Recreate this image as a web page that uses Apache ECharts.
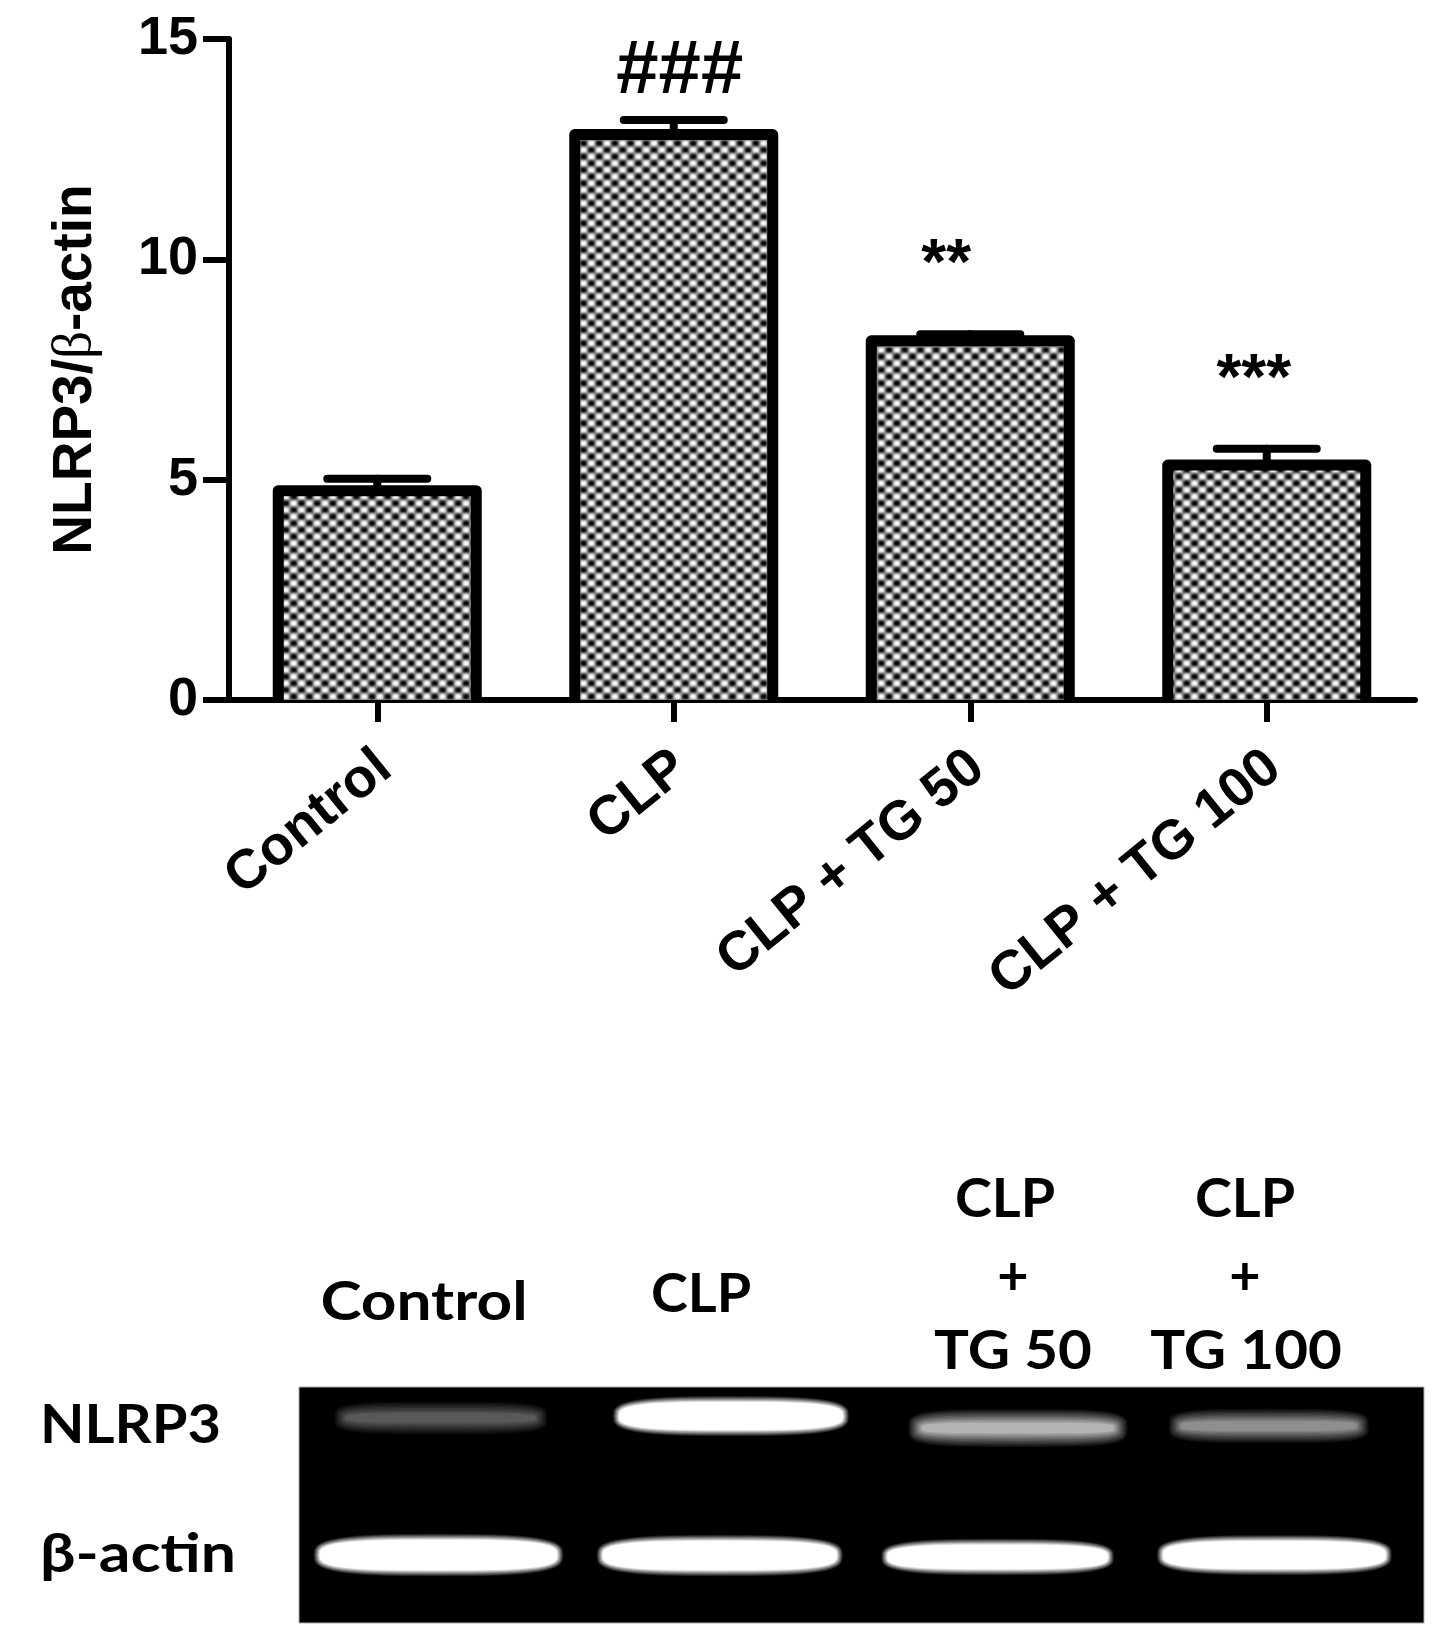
<!DOCTYPE html>
<html>
<head>
<meta charset="utf-8">
<title>NLRP3</title>
<script src="https://cdn.jsdelivr.net/npm/echarts@6/dist/echarts.min.js"></script>
<style>
  html, body { margin: 0; padding: 0; background: #fff; }
  #chart { width: 1451px; height: 1651px; }
</style>
</head>
<body>
<div id="chart"></div>
<script>
var categories = ["Control", "CLP", "CLP + TG 50", "CLP + TG 100"];
var means = [4.75, 12.83, 8.15, 5.33];
var errorTops = [5.02, 13.16, 8.3, 5.7];
var yTicks = [0, 5, 10, 15];
var marks = ["", "###", "**", "***"];
var markHeights = [null, 14.25, 9.85, 7.22];

// gel bands, in percent of the gel width / height
var nlrp3Centers = [12.6, 38.4, 63.9, 86.2];
var nlrp3Rows = [86.9, 87.7, 82.6, 83.5];
var nlrp3Widths = [19, 21, 19.5, 17.8];
var nlrp3Heights = [14, 17, 16, 14.5];
var nlrp3Levels = [0.35, 1, 0.7, 0.56];
var actinCenters = [12.4, 37.4, 62.1, 86.7];
var actinRows = [28.8, 28.6, 28, 28.8];
var actinWidths = [22.2, 21.9, 20.7, 20.9];
var actinHeights = [18, 17.5, 15.5, 17];
var actinLevels = [1, 1, 1, 1];

var boldFont = '"Liberation Sans", Arial, sans-serif';
var gelFont = 'Lato, "Open Sans", sans-serif';

function makePattern() {
  var c = document.createElement("canvas");
  c.width = 47;
  c.height = 40;
  var ctx = c.getContext("2d");
  ctx.fillStyle = "#8a8a8a";
  ctx.fillRect(0, 0, 47, 40);
  ctx.filter = "blur(0.8px)";
  var dx = 47 / 6, dy = 40 / 6;
  for (var r = -1; r < 7; r++) {
    for (var k = -1; k < 7; k++) {
      ctx.fillStyle = (r + k + 2) % 2 === 0 ? "#ffffff" : "#000000";
      ctx.beginPath();
      ctx.ellipse((k + 0.5) * dx, (r + 0.5) * dy, 3.3, 2.8, 0, 0, Math.PI * 2);
      ctx.fill();
    }
  }
  return c;
}

function bandData(centers, rows, widths, heights, levels) {
  return centers.map(function (c, i) {
    return [c, rows[i], widths[i], heights[i], levels[i]];
  });
}

// outline of a gel band, a superellipse around (cx, cy)
function bandOutline(cx, cy, a, b, p) {
  var pts = [];
  for (var i = 0; i < 48; i++) {
    var t = (i / 48) * Math.PI * 2;
    var cos = Math.cos(t), sin = Math.sin(t);
    pts.push([
      cx + a * (cos < 0 ? -1 : 1) * Math.pow(Math.abs(cos), 2 / p),
      cy + b * (sin < 0 ? -1 : 1) * Math.pow(Math.abs(sin), 2 / p)
    ]);
  }
  return pts;
}

// a soft band: stacked translucent shapes give a linear ramp at the edge
function renderBand(params, api) {
  var center = api.coord([api.value(0), api.value(1)]);
  var size = api.size([api.value(2), api.value(3)]);
  var level = api.value(4);
  var g = Math.round(level * 255);
  var color = "rgb(" + g + "," + g + "," + g + ")";
  var n = 10;
  var edge = level < 1 ? size[1] * 0.36 : 6;
  var children = [];
  for (var k = 0; k < n; k++) {
    var inset = (k * edge) / (n - 1);
    children.push({
      type: "polygon",
      shape: { points: bandOutline(center[0], center[1], size[0] / 2 - inset, size[1] / 2 - inset, level < 1 ? 4 : 3.2) },
      style: { fill: color, opacity: 1 / (n - k) }
    });
  }
  return { type: "group", children: children };
}

function renderOutline(params, api) {
  var top = api.coord([api.value(0), api.value(1)]);
  var base = api.coord([api.value(0), 0]);
  var half = 99;
  return {
    type: "polyline",
    shape: { points: [[top[0] - half, base[1]], [top[0] - half, top[1]], [top[0] + half, top[1]], [top[0] + half, base[1]]] },
    style: { fill: null, stroke: "#000", lineWidth: 11, lineJoin: "round" }
  };
}

function renderError(params, api) {
  var top = api.coord([api.value(0), api.value(1)]);
  var bottom = api.coord([api.value(0), api.value(2)]);
  var half = 50;
  var style = { stroke: "#000", lineWidth: 8, lineCap: "round" };
  return {
    type: "group",
    children: [
      { type: "line", shape: { x1: top[0], y1: top[1], x2: bottom[0], y2: bottom[1] }, style: style },
      { type: "line", shape: { x1: top[0] - half, y1: top[1], x2: top[0] + half, y2: top[1] }, style: style }
    ]
  };
}

function gelText(text, x, y, stretch, align) {
  return {
    type: "text",
    x: x,
    y: y,
    scaleX: stretch,
    style: {
      text: text,
      fill: "#000",
      font: "bold 54px " + gelFont,
      align: align || "center",
      verticalAlign: "middle"
    }
  };
}

var chart = echarts.init(document.getElementById("chart"));

var option = {
  backgroundColor: "#fff",
  animation: false,
  grid: [
    { left: 229, top: 39, width: 1186, height: 661 },
    { left: 299, top: 1387, width: 1125, height: 236, show: true, backgroundColor: "#000", borderColor: "#aaa", borderWidth: 1 }
  ],
  xAxis: [
    {
      type: "category",
      data: categories,
      gridIndex: 0,
      axisLine: { onZero: false, lineStyle: { color: "#000", width: 6 } },
      axisTick: { show: true, alignWithLabel: true, length: 22, lineStyle: { color: "#000", width: 6 } },
      axisLabel: {
        rotate: 39,
        interval: 0,
        margin: 52,
        verticalAlign: "top",
        lineHeight: 24,
        color: "#000",
        fontFamily: boldFont,
        fontWeight: "bold",
        fontSize: 55
      },
      splitLine: { show: false }
    },
    { type: "value", gridIndex: 1, min: 0, max: 100, show: false }
  ],
  yAxis: [
    {
      type: "value",
      gridIndex: 0,
      min: 0,
      max: 15,
      interval: 5,
      axisLine: { show: true, lineStyle: { color: "#000", width: 6 } },
      axisTick: { show: true, length: 26, lineStyle: { color: "#000", width: 6 } },
      axisLabel: {
        margin: 31,
        color: "#000",
        fontFamily: boldFont,
        fontWeight: "bold",
        fontSize: 54,
        customValues: yTicks
      },
      splitLine: { show: false },
      name: "{a|NLRP3/}{b|β}{a|-actin}",
      nameLocation: "middle",
      nameGap: 126,
      nameRotate: 90,
      nameTextStyle: {
        rich: {
          a: { fontFamily: boldFont, fontWeight: "bold", fontSize: 55, color: "#000" },
          b: { fontFamily: '"Liberation Serif", serif', fontWeight: "normal", fontSize: 55, color: "#000" }
        }
      }
    },
    { type: "value", gridIndex: 1, min: 0, max: 100, show: false }
  ],
  series: [
    {
      type: "bar",
      xAxisIndex: 0,
      yAxisIndex: 0,
      data: means,
      barWidth: 198,
      itemStyle: { color: { image: makePattern(), repeat: "repeat" } },
      z: 2
    },
    {
      type: "custom",
      xAxisIndex: 0,
      yAxisIndex: 0,
      data: categories.map(function (c, i) { return [i, means[i]]; }),
      renderItem: renderOutline,
      z: 3
    },
    {
      type: "custom",
      xAxisIndex: 0,
      yAxisIndex: 0,
      data: categories.map(function (c, i) { return [i, errorTops[i], means[i]]; }),
      renderItem: renderError,
      z: 1
    },
    {
      type: "scatter",
      xAxisIndex: 0,
      yAxisIndex: 0,
      symbolSize: 0,
      itemStyle: { opacity: 1 },
      data: categories.map(function (c, i) {
        var dx = [0, 6, -24, -13][i];
        return {
          value: [i, markHeights[i]],
          label: {
            show: true,
            formatter: marks[i],
            position: "inside",
            offset: [dx, 0],
            color: "#000",
            fontFamily: boldFont,
            fontWeight: "bold",
            fontSize: i === 1 ? 76 : 64
          }
        };
      }),
      z: 5
    },
    {
      type: "custom",
      xAxisIndex: 1,
      yAxisIndex: 1,
      data: bandData(nlrp3Centers, nlrp3Rows, nlrp3Widths, nlrp3Heights, nlrp3Levels),
      renderItem: renderBand,
      clip: true
    },
    {
      type: "custom",
      xAxisIndex: 1,
      yAxisIndex: 1,
      data: bandData(actinCenters, actinRows, actinWidths, actinHeights, actinLevels),
      renderItem: renderBand,
      clip: true
    }
  ],
  graphic: [
    gelText("Control", 424, 1303, 1.15),
    gelText("CLP", 701, 1295, 1.03),
    gelText("CLP", 1005, 1200, 1.03),
    gelText("+", 1013, 1278, 1),
    gelText("TG 50", 1013, 1352, 1.08),
    gelText("CLP", 1245, 1200, 1.03),
    gelText("+", 1245, 1278, 1),
    gelText("TG 100", 1246, 1352, 1.08),
    gelText("NLRP3", 40, 1426, 1.07, "left"),
    gelText("β-actin", 40, 1555, 1.157, "left")
  ]
};

chart.setOption(option);
</script>
</body>
</html>
